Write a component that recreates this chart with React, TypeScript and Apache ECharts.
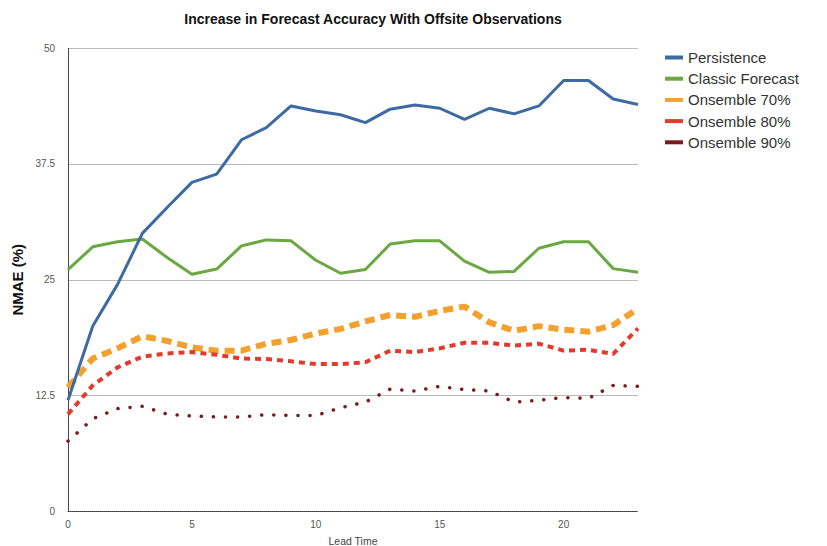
import React, { useEffect, useRef } from "react";
import * as echarts from "echarts";

const leadTime = [0, 1, 2, 3, 4, 5, 6, 7, 8, 9, 10, 11, 12, 13, 14, 15, 16, 17, 18, 19, 20, 21, 22, 23];
const persistence = [12.0, 20.0, 24.5, 30.0, 32.8, 35.5, 36.4, 40.1, 41.4, 43.75, 43.2, 42.8, 41.95, 43.4, 43.85, 43.5, 42.3, 43.5, 42.9, 43.75, 46.5, 46.5, 44.5, 43.9];
const classicForecast = [26.1, 28.55, 29.1, 29.4, 27.4, 25.6, 26.15, 28.65, 29.3, 29.2, 27.1, 25.7, 26.1, 28.85, 29.2, 29.2, 27.0, 25.8, 25.9, 28.4, 29.1, 29.1, 26.2, 25.8];
const onsemble70 = [13.4, 16.5, 17.6, 18.9, 18.4, 17.7, 17.35, 17.35, 18.1, 18.5, 19.2, 19.7, 20.5, 21.2, 21.0, 21.65, 22.1, 20.4, 19.5, 20.0, 19.6, 19.4, 20.1, 21.9];
const onsemble80 = [10.5, 13.6, 15.55, 16.7, 17.05, 17.2, 16.9, 16.5, 16.45, 16.2, 15.9, 15.9, 16.1, 17.35, 17.2, 17.6, 18.2, 18.2, 17.9, 18.1, 17.35, 17.45, 17.0, 19.75];
const onsemble90 = [7.6, 10.0, 11.1, 11.35, 10.5, 10.3, 10.2, 10.2, 10.45, 10.35, 10.35, 11.2, 11.8, 13.2, 13.0, 13.5, 13.15, 13.0, 11.8, 12.0, 12.3, 12.2, 13.6, 13.5];
const seriesNames = ["Persistence", "Classic Forecast", "Onsemble 70%", "Onsemble 80%", "Onsemble 90%"];

const pair = (ys: number[]) => leadTime.map((x, i) => [x, ys[i]]);

export default function App() {
  const ref = useRef<HTMLDivElement>(null);
  useEffect(() => {
    if (!ref.current) return;
    const chart = echarts.init(ref.current, null, { renderer: "svg" });
    const font = "Arial, 'Liberation Sans', Helvetica, sans-serif";
    chart.setOption({
      animation: false,
      backgroundColor: "#ffffff",
      textStyle: { fontFamily: font },
      title: {
        text: "Increase in Forecast Accuracy With Offsite Observations",
        left: 368,
        top: 7,
        textAlign: "center",
        textStyle: { fontFamily: font, fontSize: 14, fontWeight: "bold", color: "#111" },
      },
      legend: {
        orient: "vertical",
        left: 660,
        top: 45,
        itemWidth: 18,
        itemHeight: 4,
        itemGap: 6.2,
        icon: "rect",
        data: seriesNames,
        textStyle: { fontFamily: font, fontSize: 15, color: "#333" },
      },
      grid: { left: 68, right: 189, top: 48, bottom: 34.5, containLabel: false, outerBoundsMode: "none" },
      xAxis: {
        type: "value",
        min: 0,
        max: 23,
        interval: 5,
        name: "Lead Time",
        nameLocation: "middle",
        nameGap: 23.5,
        nameTextStyle: { fontFamily: font, fontSize: 10.5, color: "#444" },
        axisLine: { lineStyle: { color: "#333", type: "dotted", width: 1 } },
        axisTick: { show: false },
        axisLabel: { color: "#555", fontSize: 10, margin: 8, fontFamily: font, showMaxLabel: false },
        splitLine: { show: false },
      },
      yAxis: {
        type: "value",
        min: 0,
        max: 50,
        interval: 12.5,
        name: "NMAE (%)",
        nameLocation: "middle",
        nameGap: 40,
        nameTextStyle: { fontFamily: font, fontSize: 15, fontWeight: "bold", color: "#111" },
        axisLine: { show: true, lineStyle: { color: "#333", type: "dotted", width: 1 } },
        axisTick: { show: false },
        axisLabel: { color: "#555", fontSize: 10, margin: 13, fontFamily: font },
        splitLine: { lineStyle: { color: "#bbbbbb", width: 1 } },
      },
      series: [
        {
          name: seriesNames[0], type: "line", data: pair(persistence), symbol: "none",
          color: "#3d6aa3", lineStyle: { width: 3, color: "#3d6aa3" }, z: 5,
        },
        {
          name: seriesNames[1], type: "line", data: pair(classicForecast), symbol: "none",
          color: "#6aa842", lineStyle: { width: 3, color: "#6aa842" }, z: 4,
        },
        {
          name: seriesNames[2], type: "line", data: pair(onsemble70), symbol: "none",
          color: "#f4a02c", lineStyle: { width: 6, color: "#f4a02c", type: [10, 6] }, z: 3,
        },
        {
          name: seriesNames[3], type: "line", data: pair(onsemble80), symbol: "none",
          color: "#e23a2c", lineStyle: { width: 4, color: "#e23a2c", type: [6, 5] }, z: 3,
        },
        {
          name: seriesNames[4], type: "line", data: pair(onsemble90), symbol: "none",
          color: "#7a1a1c", lineStyle: { width: 3.5, color: "#7a1a1c", type: [0.1, 12], cap: "round" }, z: 3,
        },
      ],
    });
    return () => chart.dispose();
  }, []);
  return <div ref={ref} style={{ position: "absolute", left: 0, top: 0, width: 827, height: 546 }} />;
}
